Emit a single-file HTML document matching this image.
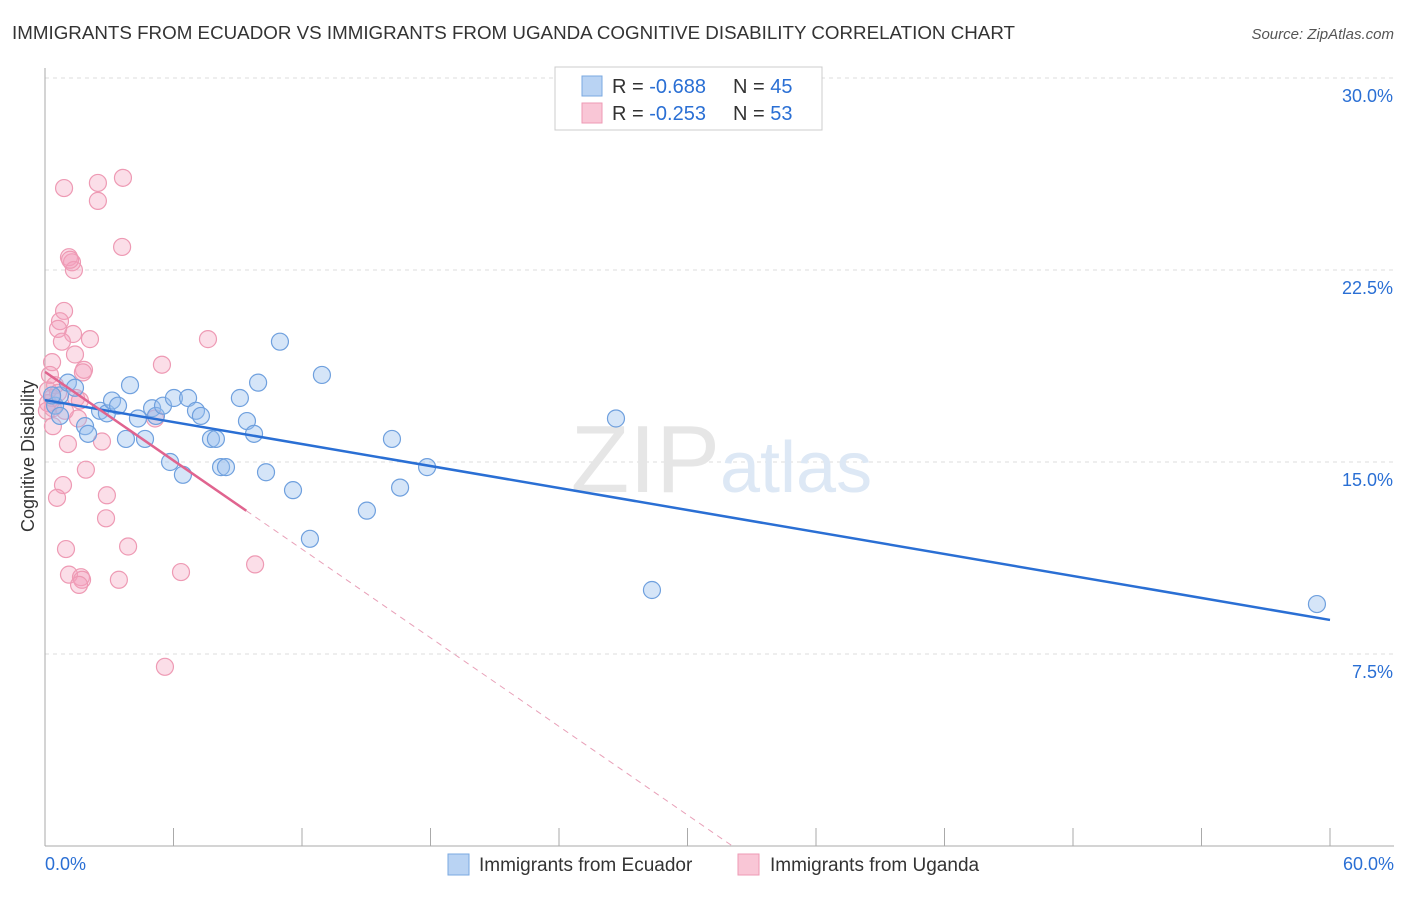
<!DOCTYPE html>
<html><head><meta charset="utf-8"><style>
body{margin:0;background:#fff;font-family:"Liberation Sans",sans-serif;}
svg text{font-family:"Liberation Sans",sans-serif;}
</style></head><body>
<svg width="1406" height="892">
<text x="12" y="39" font-size="18" fill="#333" textLength="1003" lengthAdjust="spacingAndGlyphs">IMMIGRANTS FROM ECUADOR VS IMMIGRANTS FROM UGANDA COGNITIVE DISABILITY CORRELATION CHART</text>
<text x="1394" y="39" font-size="15" fill="#555" font-style="italic" text-anchor="end">Source: ZipAtlas.com</text>
<g id="grid"></g>
<text x="720" y="492" font-size="96" fill="#e6e6e6" font-family="Liberation Serif" text-anchor="end">ZIP</text>
<text x="720" y="492" font-size="72" fill="#dde8f5">atlas</text>
<g id="axes"></g>
<g id="pts"></g>
<g id="lines"></g>
<text x="34" y="456" font-size="18" fill="#333" text-anchor="middle" transform="rotate(-90 34 456)">Cognitive Disability</text>
<g>
<rect x="555" y="67" width="267" height="63" fill="#fff" stroke="#ccc"/>
<rect x="582" y="76" width="20" height="20" fill="#b9d3f3" stroke="#7aa8e0"/>
<rect x="582" y="103" width="20" height="20" fill="#f9c6d6" stroke="#ee9ab4"/>
<text x="612" y="93" font-size="20" fill="#333">R = <tspan fill="#2a6fd4">-0.688</tspan></text>
<text x="733" y="93" font-size="20" fill="#333">N = <tspan fill="#2a6fd4">45</tspan></text>
<text x="612" y="120" font-size="20" fill="#333">R = <tspan fill="#2a6fd4">-0.253</tspan></text>
<text x="733" y="120" font-size="20" fill="#333">N = <tspan fill="#2a6fd4">53</tspan></text>
</g>
<g>
<rect x="448" y="854" width="21" height="21" fill="#b9d3f3" stroke="#7aa8e0"/>
<text x="479" y="871" font-size="19" fill="#333">Immigrants from Ecuador</text>
<rect x="738" y="854" width="21" height="21" fill="#f9c6d6" stroke="#ee9ab4"/>
<text x="770" y="871" font-size="19" fill="#333">Immigrants from Uganda</text>
</g>
</svg>
<script>
const xTicks=[0,6,12,18,24,30,36,42,48,54,60];
const yTicks=[7.5,15,22.5,30];
const blueX=[0.47,0.70,1.07,1.40,0.70,0.33,1.87,2.01,2.57,2.89,3.13,3.41,3.78,3.97,4.34,4.67,5.00,5.18,5.51,5.84,6.02,6.44,6.68,7.05,7.28,7.75,7.98,8.22,8.45,9.10,9.43,9.76,9.95,10.32,10.97,11.58,12.37,12.93,15.03,16.20,16.58,17.84,26.66,28.34,59.39];
const blueY=[17.2,17.6,18.1,17.9,16.8,17.6,16.4,16.1,17.0,16.9,17.4,17.2,15.9,18.0,16.7,15.9,17.1,16.8,17.2,15.0,17.5,14.5,17.5,17.0,16.8,15.9,15.9,14.8,14.8,17.5,16.6,16.1,18.1,14.6,19.7,13.9,12.0,18.4,13.1,15.9,14.0,14.8,16.7,10.0,9.45];
const pinkX=[0.89,2.47,3.64,2.47,3.60,1.12,1.26,1.35,1.17,0.89,0.70,0.61,1.31,0.79,2.10,7.61,5.46,0.33,1.40,1.82,1.77,0.23,0.47,0.14,0.61,0.33,0.14,0.37,1.45,1.63,1.54,5.14,0.37,1.07,2.66,1.91,0.84,0.56,2.89,2.85,0.98,3.88,1.12,1.68,1.73,1.59,3.45,6.35,9.81,5.60,0.93,0.09];
const pinkY=[25.7,25.9,26.1,25.2,23.4,23.0,22.8,22.5,22.9,20.9,20.5,20.2,20.0,19.7,19.8,19.8,18.8,18.9,19.2,18.6,18.5,18.4,18.0,17.8,17.7,17.5,17.3,17.1,17.5,17.4,16.7,16.7,16.4,15.7,15.8,14.7,14.1,13.6,13.7,12.8,11.6,11.7,10.6,10.5,10.4,10.2,10.4,10.7,11.0,7.0,17.0,17.0];
const blueFit=[17.42,8.83];
const pinkFit=[18.52,-0.577];
const pinkSolidEnd=9.4;
const sx=v=>45+v/60*1285, sy=v=>846-v/7.5*192;
const NS="http://www.w3.org/2000/svg";
function mk(tag,attrs,parent){const e=document.createElementNS(NS,tag);for(const k in attrs)e.setAttribute(k,attrs[k]);document.getElementById(parent).appendChild(e);return e;}
yTicks.forEach(t=>{
 const l=mk('line',{x1:45,x2:1394,y1:sy(t),y2:sy(t),stroke:'#ddd','stroke-dasharray':'4,4'},'grid');
 
 
 const tx=mk('text',{x:1393,y:sy(t)+24,'font-size':18,fill:'#2a6fd4','text-anchor':'end'},'grid');
 tx.textContent=t.toFixed(1)+'%';
 
 
});
const ax=mk('line',{x1:45,x2:45,y1:68,y2:846,stroke:'#aaa'},'axes');


const bx=mk('line',{x1:45,x2:1394,y1:846,y2:846,stroke:'#aaa'},'axes');


xTicks.forEach(t=>{
 const l=mk('line',{x1:sx(t),x2:sx(t),y1:828,y2:846,stroke:'#aaa'},'axes');
 
 
});
[[0,'start'],[60,'end']].forEach(([t,a])=>{
 const tx=mk('text',{x:t===0?45:1394,y:870,'font-size':18,fill:'#2a6fd4','text-anchor':a},'axes');
 tx.textContent=t.toFixed(1)+'%';
 
 
});
pinkX.forEach((v,i)=>{
 const c=mk('circle',{cx:sx(v),cy:sy(pinkY[i]),r:8.5,fill:'rgba(244,160,188,0.35)',stroke:'#ee9ab4','stroke-width':1.2},'pts');
 
 
});
blueX.forEach((v,i)=>{
 const c=mk('circle',{cx:sx(v),cy:sy(blueY[i]),r:8.5,fill:'rgba(150,190,238,0.4)',stroke:'#6fa0de','stroke-width':1.2},'pts');
 
 
});
const bl=mk('line',{x1:sx(0),y1:sy(blueFit[0]),x2:sx(60),y2:sy(blueFit[1]),stroke:'#2a6fd4','stroke-width':2.5},'lines');


const pe=pinkFit[0]+pinkFit[1]*pinkSolidEnd, zx=-pinkFit[0]/pinkFit[1];
const pl=mk('line',{x1:sx(0),y1:sy(pinkFit[0]),x2:sx(pinkSolidEnd),y2:sy(pe),stroke:'#e0648f','stroke-width':2.5},'lines');


const pd=mk('line',{x1:sx(pinkSolidEnd),y1:sy(pe),x2:sx(zx),y2:sy(0),stroke:'#e8a0b8','stroke-width':1,'stroke-dasharray':'6,5'},'lines');


</script>
</body></html>
